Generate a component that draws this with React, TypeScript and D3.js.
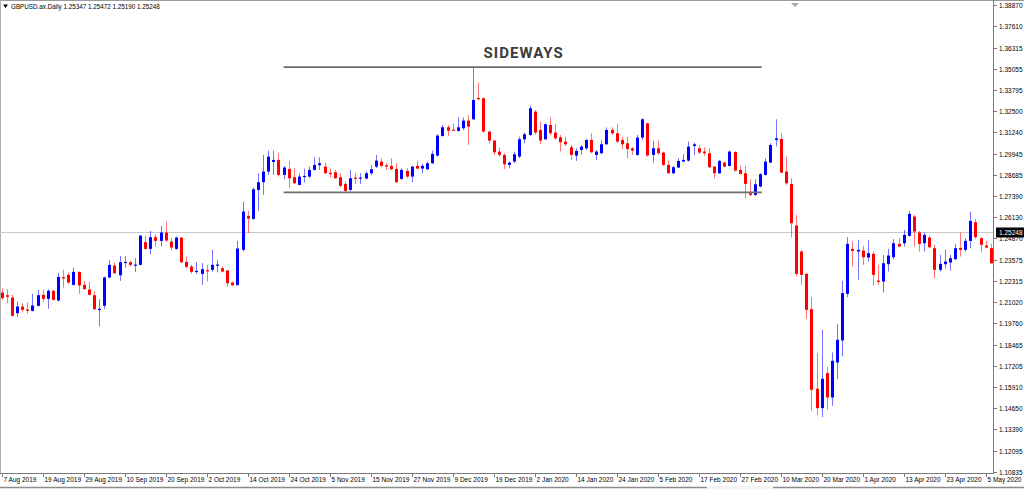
import * as React from 'react';
import { scaleLinear } from 'd3';

// GBPUSD daily, 7 Aug 2019 .. early May 2020 (one entry per bar)
const opens = [
  1.2161, 1.2145, 1.2131, 1.2037, 1.2077, 1.2059, 1.2051, 1.2081, 1.2147, 1.2123,
  1.2171, 1.2113, 1.2253, 1.2267, 1.2207, 1.2285, 1.2207, 1.2179, 1.2145, 1.2059,
  1.2081, 1.2251, 1.2323, 1.2265, 1.2341, 1.2343, 1.2323, 1.2327, 1.2463, 1.2423,
  1.2493, 1.2471, 1.2521, 1.2467, 1.2423, 1.2491, 1.2345, 1.2317, 1.2285, 1.2273,
  1.2295, 1.2297, 1.2325, 1.2307, 1.2293, 1.2221, 1.2205, 1.2417, 1.2621, 1.2603,
  1.2777, 1.2823, 1.2887, 1.2945, 1.2957, 1.2867, 1.2903, 1.2853, 1.2807, 1.2855,
  1.2857, 1.2897, 1.2925, 1.2917, 1.2879, 1.2883, 1.2853, 1.2813, 1.2777, 1.2851,
  1.2845, 1.2845, 1.2877, 1.2917, 1.2947, 1.2925, 1.2921, 1.2903, 1.2843, 1.2891,
  1.2857, 1.2921, 1.2905, 1.2901, 1.2937, 1.2983, 1.3101, 1.3153, 1.3139, 1.3131,
  1.3147, 1.3193, 1.3201, 1.3329, 1.3327, 1.3127, 1.3073, 1.3007, 1.2987, 1.2927,
  1.2947, 1.2977, 1.3081, 1.3107, 1.3247, 1.3137, 1.3081, 1.3167, 1.3121, 1.3093,
  1.3067, 1.3033, 1.2983, 1.3017, 1.3027, 1.3077, 1.2987, 1.2997, 1.3051, 1.3137,
  1.3117, 1.3077, 1.3057, 1.3027, 1.2987, 1.3091, 1.3177, 1.2987, 1.3027, 1.3001,
  1.2927, 1.2877, 1.2911, 1.2947, 1.2953, 1.3041, 1.3027, 1.3007, 1.2997, 1.2917,
  1.2877, 1.2941, 1.2921, 1.3005, 1.2897, 1.2877, 1.2757, 1.2747, 1.2797, 1.2867,
  1.2941, 1.3077, 1.3083, 1.2887, 1.2813, 1.2563, 1.2407, 1.2273, 1.2061, 1.1583,
  1.1467, 1.1677, 1.1531, 1.1741, 1.1873, 1.2153, 1.2423, 1.2407, 1.2413, 1.2371,
  1.2393, 1.2233, 1.2227, 1.2331, 1.2373, 1.2453, 1.2457, 1.2501, 1.2617, 1.2521,
  1.2457, 1.2491, 1.2427, 1.2297, 1.2331, 1.2341, 1.2361, 1.2429, 1.2417, 1.2471,
  1.2583, 1.2487, 1.2443, 1.2427,
];
const highs = [
  1.2187, 1.2181, 1.2147, 1.2107, 1.2097, 1.2101, 1.2153, 1.2177, 1.2177, 1.2181,
  1.2177, 1.2277, 1.2297, 1.2277, 1.2311, 1.2287, 1.2231, 1.2225, 1.2167, 1.2121,
  1.2257, 1.2357, 1.2341, 1.2381, 1.2381, 1.2351, 1.2367, 1.2505, 1.2501, 1.2531,
  1.2511, 1.2561, 1.2587, 1.2487, 1.2497, 1.2493, 1.2377, 1.2327, 1.2343, 1.2337,
  1.2327, 1.2417, 1.2357, 1.2317, 1.2297, 1.2227, 1.2471, 1.2707, 1.2651, 1.2791,
  1.2877, 1.2987, 1.3013, 1.3013, 1.2997, 1.2921, 1.2951, 1.2907, 1.2877, 1.2905,
  1.2917, 1.2973, 1.2973, 1.2941, 1.2907, 1.2897, 1.2877, 1.2827, 1.2897, 1.2877,
  1.2877, 1.2887, 1.2927, 1.2987, 1.2967, 1.2937, 1.2967, 1.2937, 1.2907, 1.2907,
  1.2921, 1.2951, 1.2933, 1.2947, 1.3013, 1.3113, 1.3167, 1.3167, 1.3177, 1.3213,
  1.3213, 1.3227, 1.3513, 1.3421, 1.3333, 1.3133, 1.3077, 1.3031, 1.2997, 1.2947,
  1.3007, 1.3097, 1.3121, 1.3283, 1.3257, 1.3187, 1.3177, 1.3213, 1.3173, 1.3107,
  1.3097, 1.3047, 1.3027, 1.3047, 1.3081, 1.3117, 1.3017, 1.3077, 1.3153, 1.3153,
  1.3173, 1.3097, 1.3097, 1.3033, 1.3107, 1.3207, 1.3181, 1.3073, 1.3073, 1.3007,
  1.2953, 1.2921, 1.2967, 1.2991, 1.3067, 1.3061, 1.3047, 1.3033, 1.3027, 1.2921,
  1.2957, 1.2947, 1.3013, 1.3009, 1.2921, 1.2921, 1.2841, 1.2841, 1.2877, 1.2967,
  1.3057, 1.3201, 1.3117, 1.2977, 1.2847, 1.2627, 1.2417, 1.2277, 1.2133, 1.1797,
  1.1937, 1.1717, 1.1801, 1.1973, 1.2231, 1.2493, 1.2467, 1.2477, 1.2441, 1.2477,
  1.2407, 1.2327, 1.2387, 1.2423, 1.2481, 1.2487, 1.2537, 1.2651, 1.2627, 1.2531,
  1.2521, 1.2501, 1.2447, 1.2387, 1.2417, 1.2387, 1.2453, 1.2521, 1.2487, 1.2647,
  1.2603, 1.2493, 1.2473, 1.2453,
];
const lows = [
  1.2117, 1.2097, 1.2017, 1.2013, 1.2041, 1.2033, 1.2047, 1.2077, 1.2103, 1.2063,
  1.2113, 1.2107, 1.2191, 1.2211, 1.2203, 1.2153, 1.2177, 1.2143, 1.2057, 1.1957,
  1.2063, 1.2247, 1.2273, 1.2231, 1.2311, 1.2317, 1.2283, 1.2323, 1.2417, 1.2391,
  1.2437, 1.2437, 1.2467, 1.2413, 1.2417, 1.2337, 1.2307, 1.2273, 1.2273, 1.2207,
  1.2227, 1.2283, 1.2283, 1.2281, 1.2197, 1.2199, 1.2205, 1.2407, 1.2517, 1.2597,
  1.2651, 1.2747, 1.2867, 1.2867, 1.2857, 1.2841, 1.2787, 1.2813, 1.2803, 1.2821,
  1.2847, 1.2893, 1.2897, 1.2873, 1.2853, 1.2843, 1.2793, 1.2763, 1.2767, 1.2813,
  1.2813, 1.2841, 1.2867, 1.2907, 1.2913, 1.2897, 1.2897, 1.2821, 1.2837, 1.2847,
  1.2823, 1.2901, 1.2877, 1.2897, 1.2933, 1.2977, 1.3097, 1.3101, 1.3131, 1.3127,
  1.3137, 1.3047, 1.3197, 1.3317, 1.3121, 1.3057, 1.2987, 1.2977, 1.2901, 1.2907,
  1.2937, 1.2967, 1.3057, 1.3101, 1.3111, 1.3053, 1.3077, 1.3107, 1.3077, 1.3007,
  1.3041, 1.2957, 1.2951, 1.2987, 1.3017, 1.2997, 1.2957, 1.2993, 1.3047, 1.3107,
  1.3057, 1.3021, 1.2967, 1.2987, 1.2981, 1.3077, 1.2977, 1.2941, 1.2987, 1.2921,
  1.2873, 1.2871, 1.2907, 1.2943, 1.2947, 1.2987, 1.2993, 1.2981, 1.2907, 1.2847,
  1.2873, 1.2913, 1.2917, 1.2887, 1.2867, 1.2727, 1.2741, 1.2741, 1.2793, 1.2863,
  1.2937, 1.3037, 1.2877, 1.2807, 1.2493, 1.2257, 1.2207, 1.2003, 1.1453, 1.1427,
  1.1413, 1.1457, 1.1481, 1.1641, 1.1777, 1.2133, 1.2317, 1.2237, 1.2327, 1.2347,
  1.2203, 1.2207, 1.2161, 1.2287, 1.2361, 1.2433, 1.2437, 1.2497, 1.2437, 1.2407,
  1.2407, 1.2427, 1.2247, 1.2287, 1.2307, 1.2293, 1.2357, 1.2377, 1.2407, 1.2427,
  1.2481, 1.2401, 1.2427, 1.2333,
];
const closes = [
  1.2127, 1.2135, 1.2021, 1.2077, 1.2057, 1.2051, 1.2083, 1.2145, 1.2123, 1.2171,
  1.2117, 1.2255, 1.2245, 1.2221, 1.2285, 1.2203, 1.2181, 1.2147, 1.2061, 1.2063,
  1.2251, 1.2327, 1.2277, 1.2343, 1.2345, 1.2327, 1.2329, 1.2503, 1.2423, 1.2493,
  1.2471, 1.2521, 1.2473, 1.2431, 1.2491, 1.2343, 1.2315, 1.2285, 1.2291, 1.2301,
  1.2291, 1.2327, 1.2329, 1.2287, 1.2217, 1.2205, 1.2425, 1.2647, 1.2605, 1.2781,
  1.2823, 1.2887, 1.2977, 1.2957, 1.2867, 1.2911, 1.2847, 1.2817, 1.2857, 1.2861,
  1.2897, 1.2927, 1.2937, 1.2877, 1.2875, 1.2847, 1.2801, 1.2771, 1.2847, 1.2845,
  1.2851, 1.2877, 1.2901, 1.2953, 1.2921, 1.2917, 1.2901, 1.2823, 1.2897, 1.2857,
  1.2917, 1.2905, 1.2921, 1.2937, 1.2993, 1.3103, 1.3153, 1.3133, 1.3133, 1.3153,
  1.3193, 1.3157, 1.3317, 1.3321, 1.3127, 1.3073, 1.3003, 1.2987, 1.2931, 1.2941,
  1.2991, 1.3081, 1.3111, 1.3267, 1.3121, 1.3073, 1.3171, 1.3117, 1.3087, 1.3063,
  1.3051, 1.2987, 1.3011, 1.3037, 1.3077, 1.3003, 1.3007, 1.3051, 1.3137, 1.3117,
  1.3067, 1.3051, 1.3023, 1.3013, 1.3091, 1.3201, 1.2983, 1.3027, 1.2997, 1.2927,
  1.2877, 1.2913, 1.2951, 1.2957, 1.3037, 1.3051, 1.3001, 1.2997, 1.2913, 1.2877,
  1.2951, 1.2917, 1.3007, 1.2893, 1.2873, 1.2813, 1.2747, 1.2811, 1.2871, 1.2947,
  1.3047, 1.3087, 1.2881, 1.2817, 1.2577, 1.2273, 1.2267, 1.2057, 1.1577, 1.1467,
  1.1643, 1.1531, 1.1751, 1.1877, 1.2157, 1.2453, 1.2411, 1.2417, 1.2373, 1.2397,
  1.2267, 1.2225, 1.2337, 1.2383, 1.2457, 1.2437, 1.2507, 1.2633, 1.2527, 1.2453,
  1.2507, 1.2433, 1.2297, 1.2333, 1.2347, 1.2367, 1.2427, 1.2417, 1.2471, 1.2591,
  1.2493, 1.2447, 1.2431, 1.2337,
];

// one time label every 8 bars, starting at bar 0
const timeLabels = [
  '7 Aug 2019', '19 Aug 2019', '29 Aug 2019', '10 Sep 2019', '20 Sep 2019', '2 Oct 2019',
  '14 Oct 2019', '24 Oct 2019', '5 Nov 2019', '15 Nov 2019', '27 Nov 2019', '9 Dec 2019',
  '19 Dec 2019', '2 Jan 2020', '14 Jan 2020', '24 Jan 2020', '5 Feb 2020', '17 Feb 2020',
  '27 Feb 2020', '10 Mar 2020', '20 Mar 2020', '1 Apr 2020', '13 Apr 2020', '23 Apr 2020',
  '5 May 2020',
];
const barsPerLabel = 8;

const priceTicks = [
  1.38870, 1.37610, 1.36315, 1.35055, 1.33795, 1.32500, 1.31240, 1.29945, 1.28685, 1.27390,
  1.26130, 1.24870, 1.23575, 1.22315, 1.21020, 1.19760, 1.18465, 1.17205, 1.15910, 1.14650,
  1.13390, 1.12095, 1.10835,
];

const symbolTitle = 'GBPUSD.ax.Daily  1.25347 1.25472 1.25190 1.25248';
const bidPrice = 1.25248;

// "sideways" range annotation (price levels, bar range)
const rangeLevels = [1.3514, 1.2762];
const rangeBars = [55, 148.3];
const rangeLabel = 'SIDEWAYS';

const W = 1024;
const H = 489;
const AXIS_X = 993;
const AXIS_Y = 473;
const FONT = '"Liberation Sans", Arial, sans-serif';

export default function App() {
  const n = opens.length;
  const x = scaleLinear().domain([0, n - 1]).range([1.7, 1.7 + 5.125 * (n - 1)]);
  const y = scaleLinear().domain([1.10835, 1.3887]).range([472, 5]);

  const bidY = Math.round(y(bidPrice)) + 0.5;
  const [r0, r1] = rangeBars.map(b => x(b));

  return (
    <div style={{ position: 'absolute', left: 0, top: 0 }}>
      <svg width={W} height={H} viewBox={`0 0 ${W} ${H}`} style={{ display: 'block', background: '#fff' }}>
        {/* window frame */}
        <line x1={0} x2={W} y1={0.5} y2={0.5} stroke="#9a9a9a" />
        <line x1={0.5} x2={0.5} y1={0} y2={AXIS_Y} stroke="#b0b0b0" />
        <path d="M791,3 L799,3 L795,7 Z" fill="#a8a8a8" />

        {/* bid line */}
        <line x1={0} x2={AXIS_X} y1={bidY} y2={bidY} stroke="#c8c8c8" />

        {/* candles */}
        <g>
          {opens.map((o, i) => {
            const c = closes[i];
            const up = c >= o;
            const col = up ? '#0000ff' : '#ff0000';
            const cx = Math.round(x(i));
            const top = y(Math.max(o, c));
            const bot = y(Math.min(o, c));
            return (
              <g key={i}>
                <line x1={cx + 0.5} x2={cx + 0.5} y1={y(highs[i])} y2={y(lows[i])}
                  stroke={col} strokeOpacity={0.55} strokeWidth={1} />
                <rect x={cx - 1} y={top} width={3} height={Math.max(1.2, bot - top)} fill={col} />
              </g>
            );
          })}
        </g>

        {/* sideways box lines */}
        {rangeLevels.map((lv, i) => (
          <line key={i} x1={r0} x2={r1} y1={y(lv)} y2={y(lv)} stroke="#6e6e6e" strokeWidth={1.6} />
        ))}
        <text x={(r0 + r1) / 2 + 1} y={57.5} textAnchor="middle" fontFamily='Roboto, "Open Sans", sans-serif'
          fontWeight={700} fontSize={15} letterSpacing={1} fill="#3c3c3c">{rangeLabel}</text>

        {/* title */}
        <path d="M3,4.5 L8,4.5 L5.5,8 Z" fill="#000" />
        <text x={11} y={9} fontFamily={FONT} fontSize={6.3} fill="#000">{symbolTitle}</text>

        {/* price axis */}
        <line x1={AXIS_X + 0.5} x2={AXIS_X + 0.5} y1={0} y2={AXIS_Y} stroke="#7a7a7a" />
        {priceTicks.map(p => {
          const py = Math.round(y(p)) + 0.5;
          return (
            <g key={p}>
              <line x1={AXIS_X} x2={AXIS_X + 4} y1={py} y2={py} stroke="#7a7a7a" />
              <text x={999} y={py} dy="0.35em" fontFamily={FONT} fontSize={6.5} fill="#000">{p.toFixed(5)}</text>
            </g>
          );
        })}
        <rect x={AXIS_X + 3} y={bidY - 5} width={28} height={10} fill="#000" />
        <text x={999} y={bidY} dy="0.35em" fontFamily={FONT} fontSize={6.5} fill="#fff">{bidPrice.toFixed(5)}</text>

        {/* time axis */}
        <line x1={0} x2={AXIS_X + 1} y1={AXIS_Y + 0.5} y2={AXIS_Y + 0.5} stroke="#7a7a7a" />
        {timeLabels.map((lab, k) => {
          const tx = Math.round(x(k * barsPerLabel)) + 0.5;
          return (
            <g key={lab}>
              <line x1={tx} x2={tx} y1={AXIS_Y} y2={AXIS_Y + 4} stroke="#7a7a7a" />
              <text x={tx + 1} y={482} fontFamily={FONT} fontSize={6.5} fill="#000">{lab}</text>
            </g>
          );
        })}

        {/* bottom tab strip */}
        <line x1={0} x2={W} y1={487.5} y2={487.5} stroke="#8c8c8c" strokeWidth={1.5} />
        <rect x={707} y={486} width={66} height={3} fill="#f4f4f4" />
      </svg>
    </div>
  );
}
